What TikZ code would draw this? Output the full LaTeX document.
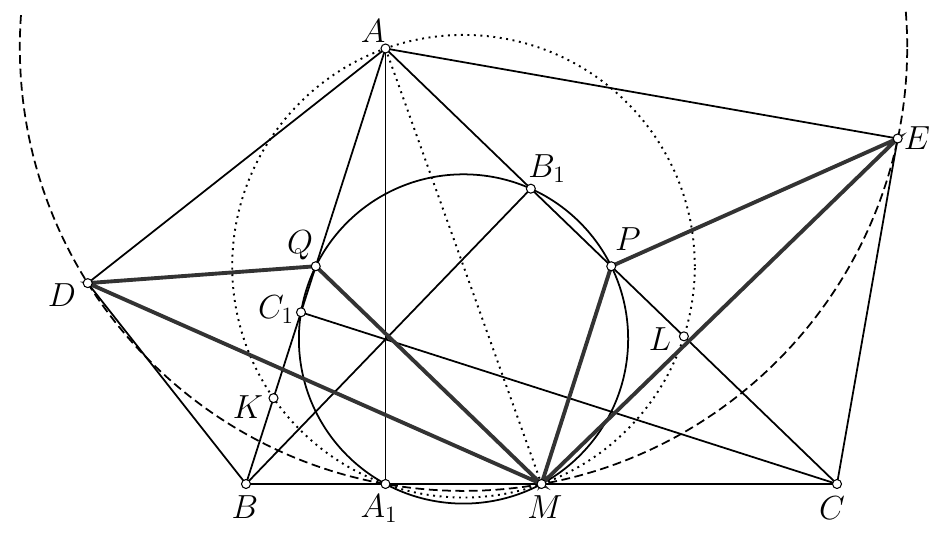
\documentclass[tikz,border=0pt]{standalone}
\usepackage{fix-cm}
\usetikzlibrary{calc}
\begin{document}
\begin{tikzpicture}[x=0.02cm,y=0.02cm,
  thinl/.style={line width=1pt,black},
  thickl/.style={line width=2.2pt,black!80},
  dotl/.style={line width=1.1pt,dash pattern=on 1.1pt off 2.6pt},
  dashl/.style={line width=1pt,dash pattern=on 5pt off 2.6pt},
  pt/.style={circle,draw,fill=white,line width=0.6pt,inner sep=0pt,minimum size=0.18cm},
  lab/.style={inner sep=0pt,font=\fontsize{19}{22}\selectfont}]
\useasboundingbox (0,0) rectangle (944,537);
% triangle
\coordinate (A) at (385.5,488.5);
\coordinate (B) at (246,53);
\coordinate (C) at (837,53);
\coordinate (A1) at ($(B)!(A)!(C)$);
\coordinate (B1) at ($(A)!(B)!(C)$);
\coordinate (C1) at ($(A)!(C)!(B)$);
\coordinate (M) at ($(B)!0.5!(C)$);
\coordinate (P) at ($(A)!0.5!(C)$);
\coordinate (Q) at ($(A)!0.5!(B)$);
\coordinate (D) at ($(A)!0.829!-34:(B)$);
\coordinate (E) at ($(A)!0.829!34:(C)$);
\coordinate (K) at ($(A)!(M)!(B)$);
\coordinate (L) at ($(A)!(M)!(C)$);
% circle centres
\coordinate (m1) at ($(A1)!0.5!(M)$);
\coordinate (m1b) at ($(m1)!1!90:(M)$);
\coordinate (m2) at ($(D)!0.5!(A1)$);
\coordinate (m2b) at ($(m2)!1!90:(A1)$);
\coordinate (Od) at (intersection of m1--m1b and m2--m2b);
\coordinate (m3) at ($(Q)!0.5!(A1)$);
\coordinate (m3b) at ($(m3)!1!90:(A1)$);
\coordinate (N) at (intersection of m1--m1b and m3--m3b);
\coordinate (Oa) at ($(A)!0.5!(M)$);
% circles
\begin{scope}
\clip (0,0) rectangle (944,525);
\draw[dashl] let \p1=($(M)-(Od)$), \n1={veclen(\x1,\y1)} in (Od) circle (\n1);
\end{scope}
\draw[dotl] let \p1=($(M)-(Oa)$), \n1={veclen(\x1,\y1)} in (Oa) circle (\n1);
\draw[thinl] let \p1=($(M)-(N)$), \n1={veclen(\x1,\y1)} in (N) circle (\n1);
% lines
\draw[dotl] (A) -- (M);
\draw[thinl] (A) -- (B) -- (C) -- cycle;
\draw[thinl] (A) -- (A1);
\draw[thinl] (B) -- (B1);
\draw[thinl] (C) -- (C1);
\draw[thinl] (A) -- (D) -- (B);
\draw[thinl] (A) -- (E) -- (C);
\draw[thickl] (D) -- (Q) -- (M) -- cycle;
\draw[thickl] (E) -- (P) -- (M) -- cycle;
% points
\foreach \p in {A,B,C,A1,B1,C1,M,P,Q,D,E,K,L}
  \node[pt] (n\p) at (\p) {};
% labels
\node[lab] (lA) at (373,506) {$A$};
\node[lab] (lB) at (245,30) {$B$};
\node[lab] (lA1) at (379,28) {$A_1$};
\node[lab] (lM) at (545,30) {$M$};
\node[lab] (lC) at (832,29) {$C$};
\node[lab] (lL) at (660,198) {$L$};
\node[lab] (lE) at (917,399) {$E$};
\node[lab] (lP) at (628,298) {$P$};
\node[lab] (lB1) at (547,368) {$B_1$};
\node[lab] (lD) at (62,242) {$D$};
\node[lab] (lQ) at (300,292) {$Q$};
\node[lab] (lC1) at (276,227) {$C_1$};
\node[lab] (lK) at (248,130) {$K$};
\end{tikzpicture}
\end{document}
